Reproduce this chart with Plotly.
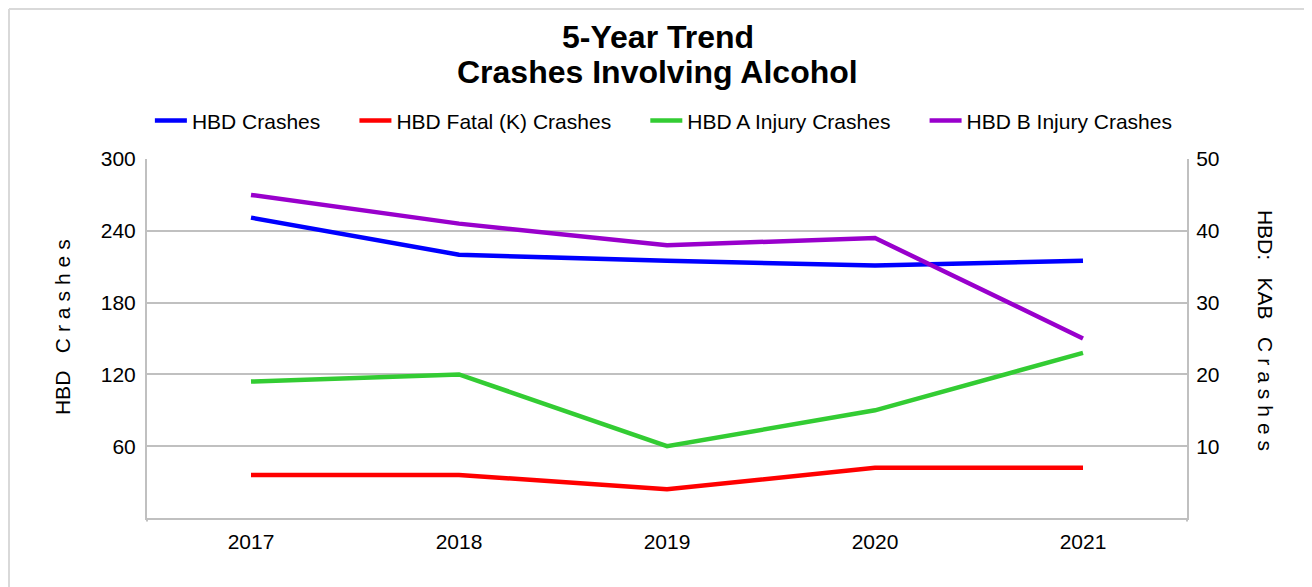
import plotly.graph_objects as go

years = ["2017", "2018", "2019", "2020", "2021"]
hbd_crashes = [251, 220, 215, 211, 215]
hbd_fatal = [6, 6, 4, 7, 7]
hbd_a_injury = [19, 20, 10, 15, 23]
hbd_b_injury = [45, 41, 38, 39, 25]

left_ticks = [60, 120, 180, 240, 300]
right_ticks = [10, 20, 30, 40, 50]

FONT = "Liberation Sans, Arial, sans-serif"
GRID = "#c0c0c0"
FS = 21
PAD = "\u00a0" * 5

fig = go.Figure()
fig.add_trace(go.Scatter(x=years, y=hbd_crashes, name="HBD Crashes" + PAD, mode="lines",
                         line=dict(color="#0000ff", width=4.5), yaxis="y"))
fig.add_trace(go.Scatter(x=years, y=hbd_fatal, name="HBD Fatal (K) Crashes" + PAD, mode="lines",
                         line=dict(color="#ff0000", width=4.5), yaxis="y2"))
fig.add_trace(go.Scatter(x=years, y=hbd_a_injury, name="HBD A Injury Crashes" + PAD, mode="lines",
                         line=dict(color="#33cc33", width=4.5), yaxis="y2"))
fig.add_trace(go.Scatter(x=years, y=hbd_b_injury, name="HBD B Injury Crashes", mode="lines",
                         line=dict(color="#9900cc", width=4.5), yaxis="y2"))

ts = "\u2009"
left_title = "HBD\u00a0\u00a0\u00a0" + (ts + "\u200a").join("Crashes")
right_title = "HBD:\u00a0\u00a0\u00a0KAB\u00a0\u00a0\u00a0" + (ts + "\u200a").join("Crashes")

fig.update_layout(
    width=1304, height=579,
    paper_bgcolor="white", plot_bgcolor="white",
    font=dict(family=FONT, size=FS, color="black"),
    margin=dict(l=139, r=125, t=151, b=69),
    showlegend=True,
    legend=dict(orientation="h", x=0.497, xanchor="center", y=1.106, yanchor="middle",
                font=dict(family=FONT, size=FS, color="black"), itemwidth=32,
                bgcolor="rgba(0,0,0,0)"),
    xaxis=dict(type="category", range=[-0.5, 4.5], showgrid=False, showline=True,
               linecolor=GRID, linewidth=2, ticks="", ticklabelstandoff=4,
               tickfont=dict(size=FS)),
    yaxis=dict(range=[0, 300], tickvals=left_ticks, showgrid=True, gridcolor=GRID, gridwidth=2,
               showline=True, linecolor=GRID, linewidth=2, ticks="", zeroline=False,
               ticklabelstandoff=5, tickfont=dict(size=FS)),
    yaxis2=dict(range=[0, 50], tickvals=right_ticks, overlaying="y", side="right",
                showgrid=False, showline=True, linecolor=GRID, linewidth=2, ticks="",
                zeroline=False, ticklabelstandoff=3, tickfont=dict(size=FS)),
    annotations=[
        dict(text="<b>5-Year Trend</b>", xref="paper", yref="paper", x=0.4913, y=1.3398,
             showarrow=False, font=dict(family=FONT, size=32, color="black"),
             xanchor="center", yanchor="middle"),
        dict(text="<b>Crashes Involving Alcohol</b>", xref="paper", yref="paper", x=0.4913, y=1.2423,
             showarrow=False, font=dict(family=FONT, size=32, color="black"),
             xanchor="center", yanchor="middle"),
        dict(text=left_title, xref="paper", yref="paper", x=-0.0817, y=0.532,
             textangle=-90, showarrow=False, font=dict(family=FONT, size=FS),
             xanchor="center", yanchor="middle"),
        dict(text=right_title, xref="paper", yref="paper", x=1.075, y=0.524,
             textangle=90, showarrow=False, font=dict(family=FONT, size=FS),
             xanchor="center", yanchor="middle"),
    ],
    shapes=[
        dict(type="line", xref="paper", yref="paper", x0=-0.1327, x1=1.2, y0=1.4178, y1=1.4178,
             line=dict(color="#d9d9d9", width=2)),
        dict(type="line", xref="paper", yref="paper", x0=-0.1327, x1=-0.1327, y0=-0.25, y1=1.4178,
             line=dict(color="#d9d9d9", width=2)),
        dict(type="line", xref="paper", yref="paper", x0=0, x1=0, y0=-0.01, y1=0,
             line=dict(color=GRID, width=2)),
        dict(type="line", xref="paper", yref="paper", x0=1, x1=1, y0=-0.01, y1=0,
             line=dict(color=GRID, width=2)),
    ],
)

fig.write_html("out.html")
